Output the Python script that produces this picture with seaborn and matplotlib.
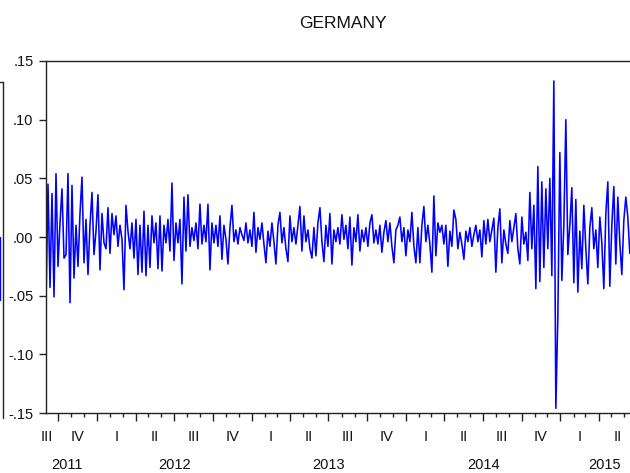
import numpy as np
import pandas as pd
import matplotlib
matplotlib.use("Agg")
import matplotlib.pyplot as plt
import matplotlib.dates as mdates
import matplotlib.transforms as mtransforms
from matplotlib.lines import Line2D
import seaborn as sns

# ---------------- data ----------------
title = "GERMANY"
start_date = "2011-09-02"
end_date = "2015-06-14"
values = [
    -0.057, 0.045, -0.043, 0.037, -0.051, 0.054, -0.025, 0.012, 0.041, -0.018,
    -0.015, 0.054, -0.056, 0.044, -0.035, 0.010, -0.025, 0.020, 0.051, -0.022,
    0.015, -0.032, 0.010, 0.038, -0.015, 0.005, 0.036, -0.028, 0.020, -0.005,
    -0.010, 0.025, -0.014, 0.020, 0.002, 0.018, -0.008, 0.010, -0.002, -0.045,
    0.027, 0.005, -0.010, 0.012, -0.018, 0.015, -0.032, 0.010, -0.030, 0.022,
    -0.033, 0.010, -0.026, 0.018, -0.005, 0.012, -0.027, 0.018, -0.029, 0.010,
    -0.005, 0.015, -0.012, 0.046, -0.020, 0.012, -0.005, 0.015, -0.040, 0.034,
    -0.012, 0.036, -0.008, 0.008, -0.003, 0.012, -0.010, 0.028, -0.006, 0.010,
    -0.004, 0.028, -0.028, 0.012, -0.005, 0.010, -0.008, 0.018, -0.019, 0.010,
    -0.002, -0.023, 0.008, 0.027, -0.004, 0.006, -0.006, 0.008, 0.002, -0.003,
    0.012, -0.005, 0.006, -0.008, 0.021, -0.013, 0.008, -0.002, 0.012, -0.006,
    -0.022, 0.005, -0.008, 0.012, -0.004, -0.023, 0.010, 0.021, -0.005, 0.008,
    -0.010, -0.021, 0.018, -0.004, 0.008, -0.006, 0.010, 0.026, -0.012, 0.018,
    -0.004, 0.006, -0.010, -0.018, 0.008, -0.016, 0.012, 0.025, -0.004, -0.021,
    0.010, -0.008, 0.020, -0.023, 0.006, -0.004, 0.008, -0.006, 0.019, -0.002,
    0.010, -0.010, 0.017, -0.024, 0.008, -0.004, 0.019, -0.012, 0.006, -0.004,
    0.008, -0.008, 0.012, 0.019, -0.005, 0.006, -0.006, 0.010, -0.013, 0.004,
    0.014, -0.004, 0.012, -0.008, -0.022, 0.006, 0.010, 0.017, -0.004, 0.008,
    -0.016, 0.006, -0.004, 0.021, -0.008, -0.022, 0.008, -0.022, 0.010, 0.026,
    -0.004, 0.010, -0.006, -0.030, 0.035, -0.016, 0.012, 0.004, 0.010, -0.006,
    0.010, -0.025, 0.005, -0.008, 0.023, 0.015, -0.010, 0.004, -0.006, -0.019,
    0.005, -0.004, 0.008, -0.008, 0.002, 0.010, -0.004, 0.006, -0.017, 0.014,
    -0.006, 0.015, -0.004, 0.006, 0.016, -0.030, 0.008, 0.024, -0.022, 0.006,
    -0.006, -0.014, 0.014, -0.004, 0.008, 0.020, -0.010, -0.023, 0.017, -0.006,
    0.004, -0.020, 0.038, -0.010, 0.027, -0.044, 0.060, -0.038, 0.047, -0.026,
    0.041, -0.010, 0.050, -0.033, 0.133, -0.146, -0.068, 0.072, -0.037, 0.010,
    0.100, -0.015, 0.010, 0.042, -0.039, 0.032, -0.047, 0.005, -0.027, 0.027,
    -0.010, -0.040, 0.008, 0.025, -0.010, 0.006, -0.026, 0.017, -0.005, -0.044,
    0.020, 0.047, -0.042, 0.010, 0.043, -0.023, 0.034, -0.005, -0.032, 0.014,
    0.034, 0.017, -0.014,
]
y_ticks = [-0.15, -0.10, -0.05, 0.00, 0.05, 0.10, 0.15]
y_tick_labels = ["-.15", "-.10", "-.05", ".00", ".05", ".10", ".15"]
quarter_names = ["I", "II", "III", "IV"]
years = [2011, 2012, 2013, 2014, 2015]
x_min = "2011-09-02"
x_max = "2015-07-27"

dates = pd.date_range(start_date, end_date, periods=len(values))
df = pd.DataFrame({"date": dates, "value": values})

# ---------------- figure ----------------
sns.set_theme(style="ticks")
plt.rcParams["font.family"] = ["Liberation Sans", "DejaVu Sans"]
W, H = 630, 473
fig = plt.figure(figsize=(W / 100, H / 100), dpi=100)
ax = fig.add_axes([46 / W, 1 - 413 / H, (648 - 46) / W, (413 - 61) / H])

sns.lineplot(data=df, x="date", y="value", color="#0000FF", lw=1.15, ax=ax)

ax.set_xlim(pd.Timestamp(x_min), pd.Timestamp(x_max))
ax.set_ylim(-0.15, 0.15)
ax.set_xlabel("")
ax.set_ylabel("")

ax.set_yticks(y_ticks)
ax.set_yticklabels(y_tick_labels, fontsize=10.5, color="#111111")
ax.tick_params(axis="y", direction="out", length=5, width=1, pad=4, color="#222222")

ax.xaxis.set_major_locator(mdates.MonthLocator(bymonth=[1, 4, 7, 10]))
ax.xaxis.set_minor_locator(mdates.MonthLocator())
ax.xaxis.set_major_formatter(matplotlib.ticker.NullFormatter())
ax.tick_params(axis="x", which="major", direction="out", length=6, width=1, color="#222222")
ax.tick_params(axis="x", which="minor", direction="out", length=3, width=1, color="#222222")

for side in ["left", "bottom", "top", "right"]:
    ax.spines[side].set_visible(True)
    ax.spines[side].set_color("#222222")
    ax.spines[side].set_linewidth(1.0)

# quarter and year labels
xl, xr = ax.get_xlim()
last = mdates.date2num(dates[-1])
pad_days = 24
trans = mtransforms.blended_transform_factory(ax.transData, fig.transFigure)
for y in years:
    for q in range(4):
        qs = mdates.date2num(pd.Timestamp(year=y, month=3 * q + 1, day=1))
        qe = mdates.date2num(pd.Timestamp(year=y + (q == 3), month=(3 * q + 3) % 12 + 1, day=1))
        a, b = max(qs, xl - pad_days), min(qe, xr)
        if b > a and qs <= last:
            ax.text((a + b) / 2, 1 - 437 / H, quarter_names[q], transform=trans,
                    ha="center", va="center", fontsize=10.5, color="#111111", clip_on=False)
    ys = mdates.date2num(pd.Timestamp(year=y, month=1, day=1))
    ye = mdates.date2num(pd.Timestamp(year=y + 1, month=1, day=1))
    a, b = max(ys, xl - pad_days), min(ye, xr)
    if b > a:
        ax.text((a + b) / 2, 1 - 465 / H, str(y), transform=trans,
                ha="center", va="center", fontsize=10.5, color="#111111", clip_on=False)

fig.text(343 / W, 1 - 24 / H, title, ha="center", va="center", fontsize=12.5, color="#111111")

# edge of neighbouring panel visible at the far left
fig.add_artist(Line2D([2.5 / W, 2.5 / W], [1 - 82 / H, 1 - 418 / H], transform=fig.transFigure,
                      color="#222222", lw=1.0))
fig.add_artist(Line2D([0, 2.5 / W], [1 - 82 / H, 1 - 82 / H], transform=fig.transFigure,
                      color="#222222", lw=1.0))
fig.add_artist(Line2D([0.4 / W, 0.4 / W], [1 - 237 / H, 1 - 300 / H], transform=fig.transFigure,
                      color="#0000FF", lw=1.0))

fig.savefig("out.png", dpi=100)
